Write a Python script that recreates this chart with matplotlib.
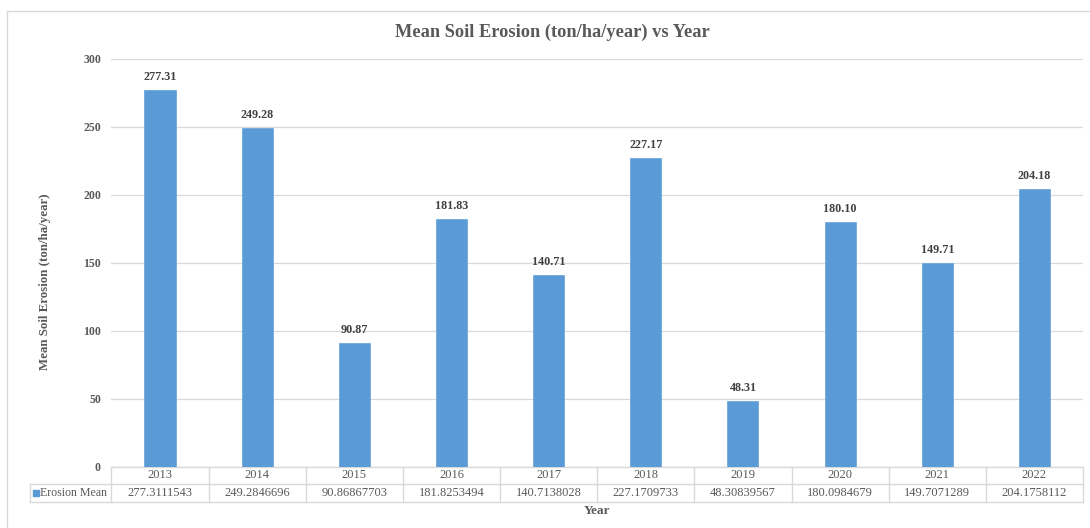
import matplotlib
matplotlib.use("Agg")
import matplotlib.pyplot as plt
import matplotlib.transforms as mtransforms
from matplotlib.lines import Line2D

years = ["2013", "2014", "2015", "2016", "2017", "2018", "2019", "2020", "2021", "2022"]
erosion_mean = [277.3111543, 249.2846696, 90.86867703, 181.8253494, 140.7138028,
                227.1709733, 48.30839567, 180.0984679, 149.7071289, 204.1758112]
table_values = ["277.3111543", "249.2846696", "90.86867703", "181.8253494", "140.7138028",
                "227.1709733", "48.30839567", "180.0984679", "149.7071289", "204.1758112"]
y_ticks = [0, 50, 100, 150, 200, 250, 300]
series_name = "Erosion Mean"

BAR = "#5B9BD5"
GRID = "#D9D9D9"
TXT = "#595959"
FONT = "Liberation Serif"

W, H = 1090, 528
fig = plt.figure(figsize=(W / 100, H / 100), dpi=100)
fig.patch.set_facecolor("white")

# chart border (left & top visible)
fig.add_artist(Line2D([7 / W, 7 / W], [0, 1 - 11 / H], color=GRID, lw=1.0, transform=fig.transFigure))
fig.add_artist(Line2D([7 / W, 1], [1 - 11 / H, 1 - 11 / H], color=GRID, lw=1.0, transform=fig.transFigure))

ax_l, ax_r, ax_t, ax_b = 111.4, 1083, 58.7, 466.7
ax = fig.add_axes([ax_l / W, 1 - ax_b / H, (ax_r - ax_l) / W, (ax_b - ax_t) / H])

x = list(range(len(years)))
bars = ax.bar(x, erosion_mean, width=0.32, color=BAR, edgecolor="#6FA8DC", linewidth=0.6, zorder=3)
ax.set_xlim(-0.5, len(years) - 0.5)
ax.set_ylim(0, 300)
ax.set_yticks(y_ticks)
ax.set_yticklabels([str(t) for t in y_ticks], fontfamily=FONT, fontweight="bold", fontsize=8.5, color=TXT)
ax.tick_params(axis="y", length=0, pad=7.5)
ax.set_xticks([])
for s in ax.spines.values():
    s.set_visible(False)
ax.yaxis.grid(True, color=GRID, lw=0.9, zorder=0)
ax.set_axisbelow(True)

for xi, v in zip(x, erosion_mean):
    ax.annotate(f"{v:.2f}", (xi, v), xytext=(0, 5), textcoords="offset points",
                ha="center", va="bottom", fontfamily=FONT, fontweight="bold", fontsize=8.7, color="#404040")

# data table
tr = mtransforms.blended_transform_factory(ax.transData, ax.transAxes)
ph = ax_b - ax_t
y0 = 0.0
y1 = -(484.0 - ax_b) / ph
y2 = -(502.0 - ax_b) / ph
colw = (ax_r - ax_l) / len(years)
lab_left = -0.5 + (29.5 - ax_l) / colw
n = len(years)
lk = dict(color=GRID, lw=1.0, transform=tr, clip_on=False)
ax.add_line(Line2D([-0.5, n - 0.5], [y0, y0], **lk))
ax.add_line(Line2D([lab_left, n - 0.5], [y1, y1], **lk))
ax.add_line(Line2D([lab_left, n - 0.5], [y2, y2], **lk))
ax.add_line(Line2D([lab_left, lab_left], [y1, y2], **lk))
for k in range(n + 1):
    ax.add_line(Line2D([k - 0.5, k - 0.5], [y0, y2], **lk))
for xi, yr, tv in zip(x, years, table_values):
    ax.text(xi, (y0 + y1) / 2, yr, transform=tr, ha="center", va="center",
            fontfamily=FONT, fontsize=9, color=TXT)
    ax.text(xi, (y1 + y2) / 2, tv, transform=tr, ha="center", va="center",
            fontfamily=FONT, fontsize=9, color=TXT)
ax.plot([-0.5 + (36 - ax_l) / colw], [(y1 + y2) / 2], marker="s", markersize=4.5, color=BAR,
        transform=tr, clip_on=False, linestyle="none")
ax.text(-0.5 + (107.5 - ax_l) / colw, (y1 + y2) / 2, series_name, transform=tr, ha="right", va="center",
        fontfamily=FONT, fontsize=8.6, color=TXT)

fig.text(552 / W, 1 - 32 / H, "Mean Soil Erosion (ton/ha/year) vs Year", ha="center", va="center",
         fontfamily=FONT, fontweight="bold", fontsize=13.2, color=TXT)
fig.text(597 / W, 1 - 511 / H, "Year", ha="center", va="center",
         fontfamily=FONT, fontweight="bold", fontsize=9.5, color=TXT)
fig.text(45 / W, 1 - 282 / H, "Mean Soil Erosion (ton/ha/year)", ha="center", va="center", rotation=90,
         fontfamily=FONT, fontweight="bold", fontsize=9.3, color=TXT)

fig.savefig("out.png", dpi=100)
